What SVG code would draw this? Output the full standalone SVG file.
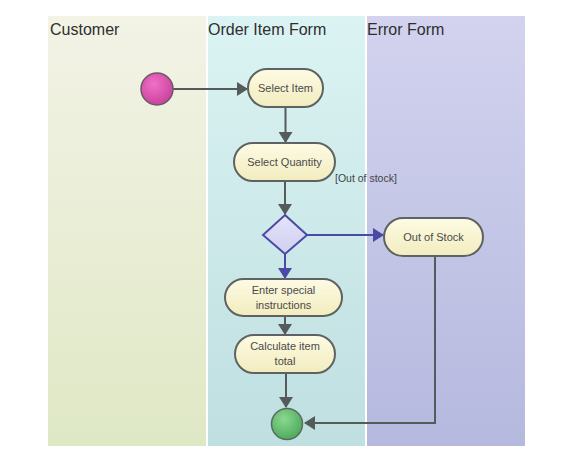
<svg xmlns="http://www.w3.org/2000/svg" width="576" height="452" viewBox="0 0 576 452">
<defs>
<linearGradient id="gCust" x1="0" y1="0" x2="0" y2="1"><stop offset="0" stop-color="#f3f3e6"/><stop offset="1" stop-color="#dfe8c5"/></linearGradient>
<linearGradient id="gOrder" x1="0" y1="0" x2="0" y2="1"><stop offset="0" stop-color="#dbf3f3"/><stop offset="1" stop-color="#bfdfe0"/></linearGradient>
<linearGradient id="gErr" x1="0" y1="0" x2="0" y2="1"><stop offset="0" stop-color="#d3d3ef"/><stop offset="1" stop-color="#b5b9de"/></linearGradient>
<linearGradient id="gAct" x1="0" y1="0" x2="0" y2="1"><stop offset="0" stop-color="#fdfbe4"/><stop offset="1" stop-color="#f2ecbe"/></linearGradient>
<radialGradient id="gStart" cx="0.4" cy="0.35" r="0.7"><stop offset="0" stop-color="#f070c8"/><stop offset="1" stop-color="#c8409a"/></radialGradient>
<radialGradient id="gEnd" cx="0.4" cy="0.35" r="0.7"><stop offset="0" stop-color="#8ad890"/><stop offset="1" stop-color="#4aa85a"/></radialGradient>
<linearGradient id="gDia" x1="0" y1="0" x2="0" y2="1"><stop offset="0" stop-color="#e4e4fa"/><stop offset="1" stop-color="#cfcff0"/></linearGradient>
<marker id="arrG" markerWidth="12" markerHeight="14" refX="10" refY="7" orient="auto" markerUnits="userSpaceOnUse"><path d="M0,0 L11,7 L0,14 Z" fill="#555a5a"/></marker>
<marker id="arrB" markerWidth="12" markerHeight="14" refX="10" refY="7" orient="auto" markerUnits="userSpaceOnUse"><path d="M0,0 L11,7 L0,14 Z" fill="#4a4aa6"/></marker>
</defs>
<style>
.lane-title{font-family:"Liberation Sans",Arial,sans-serif;font-size:16px;fill:#2e2e2e}
.act rect{fill:url(#gAct);stroke:#5f6262;stroke-width:2}
.act text{font-family:"Liberation Sans",Arial,sans-serif;font-size:11px;fill:#4a4a4a;text-anchor:middle}
.conn{fill:none;stroke:#555a5a;stroke-width:2}
.connB{fill:none;stroke:#4a4aa6;stroke-width:2}
.lbl{font-family:"Liberation Sans",Arial,sans-serif;font-size:10.5px;fill:#444}
</style>
<rect width="576" height="452" fill="#ffffff"/>
<g id="lanes">
<rect x="48" y="16" width="158" height="430" fill="url(#gCust)"/>
<rect x="208" y="16" width="157" height="430" fill="url(#gOrder)"/>
<rect x="367" y="16" width="158" height="430" fill="url(#gErr)"/>
<text class="lane-title" x="50" y="35">Customer</text>
<text class="lane-title" x="208" y="35">Order Item Form</text>
<text class="lane-title" x="367" y="35">Error Form</text>
</g>
<g id="connectors">
<path class="conn" d="M173,89 L247,89" marker-end="url(#arrG)"/>
<path class="conn" d="M285.5,107 L285.5,142" marker-end="url(#arrG)"/>
<path class="conn" d="M285,181 L285,214" marker-end="url(#arrG)"/>
<path class="connB" d="M307,235 L383,235" marker-end="url(#arrB)"/>
<path class="connB" d="M285,254 L285,278" marker-end="url(#arrB)"/>
<path class="conn" d="M285,316 L285,334" marker-end="url(#arrG)"/>
<path class="conn" d="M286,373 L286,407" marker-end="url(#arrG)"/>
<path class="conn" d="M435,256 L435,423 L305,423" marker-end="url(#arrG)"/>
<text class="lbl" x="335" y="182">[Out of stock]</text>
</g>
<g id="start"><circle cx="157" cy="89" r="16" fill="url(#gStart)" stroke="#6a5a62" stroke-width="1.5"/></g>
<g id="selectItem" class="act"><rect x="248" y="69" width="75" height="38" rx="19"/><text x="285.5" y="92">Select Item</text></g>
<g id="selectQty" class="act"><rect x="234" y="143" width="101" height="38" rx="19"/><text x="284.5" y="166">Select Quantity</text></g>
<g id="decision"><polygon points="285,215 307,235 285,254 263,235" fill="url(#gDia)" stroke="#4a4aa6" stroke-width="2"/></g>
<g id="outOfStock" class="act"><rect x="384" y="218" width="99" height="38" rx="19"/><text x="433.5" y="241">Out of Stock</text></g>
<g id="enterSpecial" class="act"><rect x="225" y="279" width="117" height="37" rx="18.5"/><text x="283.5" y="293.5">Enter special</text><text x="283.5" y="308.5">instructions</text></g>
<g id="calcTotal" class="act"><rect x="235" y="335" width="100" height="38" rx="19"/><text x="285" y="349.5">Calculate item</text><text x="285" y="364.5">total</text></g>
<g id="end"><circle cx="287" cy="424" r="15.5" fill="url(#gEnd)" stroke="#5a6a5e" stroke-width="1.5"/></g>
</svg>
